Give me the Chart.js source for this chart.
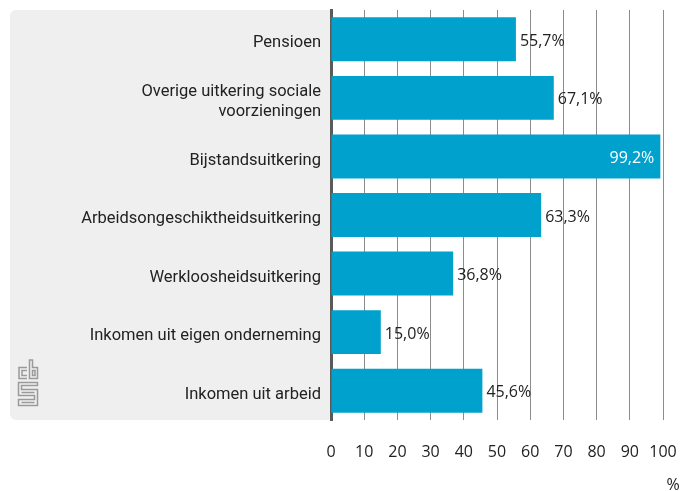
<!DOCTYPE html>
<html><head><meta charset="utf-8">
<script src="https://cdn.jsdelivr.net/npm/chart.js@4"></script>
<style>html,body{margin:0;padding:0;background:#fff}#wrap{width:683px;height:491px}</style>
</head><body><div id="wrap"><canvas id="c" width="683" height="491"></canvas></div>
<script>
const categories = ["Pensioen", ["Overige uitkering sociale", "voorzieningen"], "Bijstandsuitkering", "Arbeidsongeschiktheidsuitkering", "Werkloosheidsuitkering", "Inkomen uit eigen onderneming", "Inkomen uit arbeid"];
const values = [55.7, 67.1, 99.2, 63.3, 36.8, 15.0, 45.6];
const xTicks = [0,10,20,30,40,50,60,70,80,90,100];
const unitLabel = "%";
const FONT = "Roboto, 'Open Sans', sans-serif";
const NUMFONT = "'Open Sans', Roboto, sans-serif";

const bgPlugin = {
  id: 'bg',
  beforeDraw(chart) {
    const ctx = chart.ctx; const a = chart.chartArea;
    ctx.save();
    ctx.fillStyle = '#efefef';
    ctx.beginPath();
    ctx.roundRect(10, a.top, a.left - 10, a.bottom - a.top, [6, 0, 0, 6]);
    ctx.fill();
    // cbs logo
    ctx.strokeStyle = '#9a9a9a'; ctx.lineWidth = 1.5;
    ctx.beginPath();
    ctx.moveTo(27, 367.5); ctx.lineTo(19, 367.5); ctx.lineTo(19, 378.5); ctx.lineTo(27, 378.5);
    ctx.moveTo(27, 370.5); ctx.lineTo(22, 370.5); ctx.lineTo(22, 375.5); ctx.lineTo(27, 375.5);
    ctx.moveTo(29.5, 360); ctx.lineTo(29.5, 378.5); ctx.lineTo(37.5, 378.5); ctx.lineTo(37.5, 367.5); ctx.lineTo(32.5, 367.5); ctx.lineTo(32.5, 360); ctx.closePath();
    ctx.rect(32.5, 370.5, 2.5, 5);
    ctx.moveTo(37.5, 382.5); ctx.lineTo(18.5, 382.5); ctx.lineTo(18.5, 395.5); ctx.lineTo(34.5, 395.5); ctx.lineTo(34.5, 399.5); ctx.lineTo(18.5, 399.5); ctx.lineTo(18.5, 405.5); ctx.lineTo(37.5, 405.5); ctx.lineTo(37.5, 389.5); ctx.lineTo(21.5, 389.5); ctx.lineTo(21.5, 385.5); ctx.lineTo(37.5, 385.5); ctx.closePath();
    ctx.moveTo(21.5, 392.5); ctx.lineTo(34.5, 392.5);
    ctx.moveTo(21.5, 402.5); ctx.lineTo(34.5, 402.5);
    ctx.stroke();
    ctx.restore();
  },
  afterDatasetsDraw(chart) {
    const ctx = chart.ctx; const meta = chart.getDatasetMeta(0);
    ctx.save();
    ctx.font = "16px " + NUMFONT;
    ctx.textBaseline = 'middle';
    meta.data.forEach((bar, i) => {
      const v = values[i];
      const txt = v.toFixed(1).replace('.', ',') + '%';
      if (v > 90) {
        ctx.fillStyle = '#ffffff'; ctx.textAlign = 'right';
        ctx.fillText(txt, bar.x - 6, bar.y + 2);
      } else {
        ctx.fillStyle = '#222222'; ctx.textAlign = 'left';
        ctx.fillText(txt, bar.x + 4, bar.y + 2);
      }
    });
    ctx.fillStyle = '#222222'; ctx.textAlign = 'center';
    ctx.fillText(unitLabel, 673, 485);
    ctx.restore();
  }
};

new Chart(document.getElementById('c'), {
  type: 'bar',
  data: { labels: categories, datasets: [{ data: values, backgroundColor: '#00a1cd', borderWidth: 0, categoryPercentage: 1, barPercentage: 0.75 }] },
  options: {
    indexAxis: 'y', responsive: false, animation: false,
    layout: { padding: { left: 10, right: 20, top: 10, bottom: 0 } },
    plugins: { legend: { display: false }, tooltip: { enabled: false } },
    scales: {
      x: {
        min: 0, max: 100,
        afterBuildTicks(s) { s.ticks = xTicks.map(v => ({ value: v })); },
        afterFit(s) { s.height = 71; s.paddingLeft = 0; s.paddingRight = 0; },
        grid: { color: ctx => ctx.index === 0 ? 'rgba(0,0,0,0)' : '#8c8c8c', lineWidth: 1, tickLength: 0, drawTicks: false },
        border: { display: false },
        ticks: { padding: 23, color: '#222', font: { size: 16, family: NUMFONT }, maxRotation: 0 }
      },
      y: {
        afterFit(s) { s.width = 321; s.paddingTop = 0; s.paddingBottom = 0; },
        grid: { display: false, drawTicks: false, tickLength: 0 },
        border: { display: true, color: '#5a5a5a', width: 3 },
        ticks: { padding: 10, labelOffset: 4, color: '#222', font: { size: 16.5, family: FONT }, lineHeight: 1.25 }
      }
    }
  },
  plugins: [bgPlugin]
});
</script></body></html>
